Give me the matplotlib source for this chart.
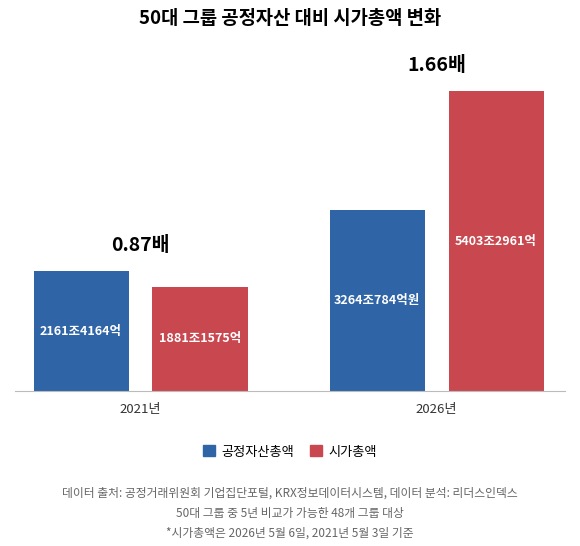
import matplotlib
matplotlib.use("Agg")
import matplotlib.pyplot as plt
import numpy as np

plt.rcParams['font.family'] = ['Noto Sans CJK KR', 'DejaVu Sans']

years = ["2021년", "2026년"]
asset = [2161.4164, 3264.0784]
mcap = [1881.1575, 5403.2961]
asset_labels = ["2161조4164억", "3264조784억원"]
mcap_labels = ["1881조1575억", "5403조2961억"]
ratios = ["0.87배", "1.66배"]

W, H = 580, 546
fig = plt.figure(figsize=(W/100, H/100), dpi=100)
ax = fig.add_axes([15/W, 1-391/H, 550/W, 331/H])
blue, red = "#2f65a6", "#c9474f"
x = np.arange(len(years))
bw, off = 0.321, 0.201
ax.bar(x-off, asset, bw, color=blue)
ax.bar(x+off, mcap, bw, color=red)
for i in range(len(years)):
    ax.text(x[i]-off, asset[i]/2, asset_labels[i], ha='center', va='center', color='white', fontsize=9, fontweight='bold')
    ax.text(x[i]+off, mcap[i]/2, mcap_labels[i], ha='center', va='center', color='white', fontsize=9, fontweight='bold')
    top = max(asset[i], mcap[i])
    ax.text(x[i], top + 290, ratios[i], ha='center', va='bottom', fontsize=14, fontweight='bold')
ax.set_xlim(-0.424, 1.434)
ax.set_ylim(0, 5964)
ax.set_yticks([])
ax.set_xticks(x)
ax.set_xticklabels(years, fontsize=9.5, color='#333333')
ax.tick_params(axis='x', length=0, pad=9)
for s in ['top', 'right', 'left']:
    ax.spines[s].set_visible(False)
ax.spines['bottom'].set_color('#bbbbbb')

fig.text(0.5, 1-18/H, "50대 그룹 공정자산 대비 시가총액 변화", ha='center', va='center', fontsize=13.5, fontweight='bold')

from matplotlib.patches import Patch
fig.legend(handles=[Patch(color=blue, label='공정자산총액'), Patch(color=red, label='시가총액')],
           loc='center', bbox_to_anchor=(0.5, 1-452/H), ncol=2, frameon=False, fontsize=9.5,
           handlelength=0.9, handleheight=0.9, columnspacing=1.2, handletextpad=0.5)

foot = ["데이터 출처: 공정거래위원회 기업집단포털, KRX정보데이터시스템, 데이터 분석: 리더스인덱스",
        "50대 그룹 중 5년 비교가 가능한 48개 그룹 대상",
        "*시가총액은 2026년 5월 6일, 2021년 5월 3일 기준"]
for t, yy in zip(foot, [493, 513, 533]):
    fig.text(0.5, 1-yy/H, t, ha='center', va='center', fontsize=8.5, color='#666666')

fig.savefig("out.png", dpi=100)
